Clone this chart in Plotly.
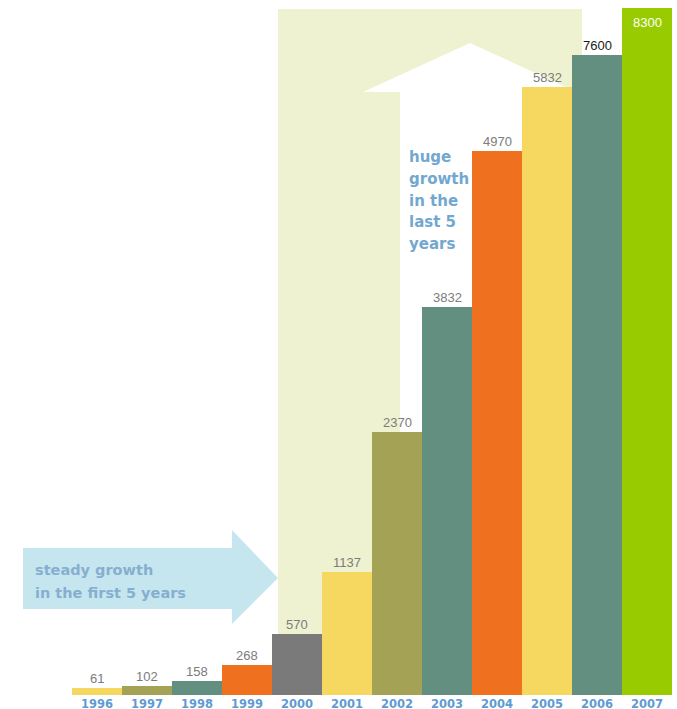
import plotly.graph_objects as go

# ---- data ----
years = ["1996", "1997", "1998", "1999", "2000", "2001",
         "2002", "2003", "2004", "2005", "2006", "2007"]
values = [61, 102, 158, 268, 570, 1137, 2370, 3832, 4970, 5832, 7600, 8300]
# bar heights as actually drawn in the picture (the original graphic is not to scale)
drawn_heights = [65, 84, 131, 280, 570, 1150, 2458, 3626, 5084, 5682, 5981, 6421]
bar_colors = ["#f6d75f", "#a3a255", "#628f80", "#ef7120", "#7a7a7a", "#f6d75f",
              "#a3a255", "#628f80", "#ef7120", "#f6d75f", "#628f80", "#99cc00"]
label_colors = ["#7c7c7c"] * 10 + ["#1a1a1a", "#ffffff"]
label_inside = [False] * 11 + [True]
steady_lines = ["steady growth", "in the first 5 years"]
huge_lines = ["huge", "growth", "in the", "last 5", "years"]

W, H = 677, 709
MB = 14
PH = H - MB  # plot-area height in px
PX_PER_UNIT = 0.107


def px(x, y):
    """pixel coords of the page -> paper coords of the plot area"""
    return x / W, 1 - y / PH


def path(points):
    pts = [px(x, y) for x, y in points]
    return "M " + " L ".join(f"{a:.4f},{b:.4f}" for a, b in pts) + " Z"


idx = list(range(len(years)))

fig = go.Figure()
fig.add_trace(go.Bar(
    x=idx, y=drawn_heights, width=1,
    marker=dict(color=bar_colors, line=dict(width=0)),
    hoverinfo="skip", showlegend=False,
))

shapes = [
    dict(type="rect", xref="paper", yref="paper",
         x0=278 / W, x1=582 / W, y0=0, y1=1 - 9 / PH,
         fillcolor="#eef2d0", line=dict(width=0), layer="below"),
    dict(type="path", xref="paper", yref="paper",
         path=path([(400, 695), (400, 92), (363, 92), (470, 43),
                    (577, 92), (540, 92), (540, 695)]),
         fillcolor="#ffffff", line=dict(width=0), layer="below"),
    dict(type="path", xref="paper", yref="paper",
         path=path([(23, 548), (232, 548), (232, 530), (278, 578),
                    (232, 624), (232, 609), (23, 609)]),
         fillcolor="#c6e6ef", line=dict(width=0), layer="below"),
]

annotations = []
# value labels, placed on the bars through the axes
for i, v, h, c, inside in zip(idx, values, drawn_heights, label_colors, label_inside):
    annotations.append(dict(
        x=i, y=h, xref="x", yref="y", text=str(v), showarrow=False,
        xanchor="center", yanchor="top" if inside else "bottom",
        yshift=-5 if inside else 0,
        font=dict(family="Liberation Sans, Arial", size=13, color=c)))

for k, line in enumerate(steady_lines):
    px_x, px_y = px(33, 570 + 23 * k)
    annotations.append(dict(
        xref="paper", yref="paper", x=px_x, y=px_y, xanchor="left", yanchor="middle",
        showarrow=False, text=f"<b>{line}</b>",
        font=dict(family="DejaVu Sans", size=14.5, color="#86afcf")))

for k, line in enumerate(huge_lines):
    px_x, px_y = px(407, 157 + 21.8 * k)
    annotations.append(dict(
        xref="paper", yref="paper", x=px_x, y=px_y, xanchor="left", yanchor="middle",
        showarrow=False, text=f"<b>{line}</b>",
        font=dict(family="DejaVu Sans", size=15, color="#72a8d0")))

x0 = -0.5 - 72 / 50
x1 = 11.5 + 5 / 50
fig.update_layout(
    width=W, height=H,
    margin=dict(l=0, r=0, t=0, b=MB, pad=0),
    paper_bgcolor="#ffffff", plot_bgcolor="rgba(0,0,0,0)",
    bargap=0,
    shapes=shapes,
    annotations=annotations,
    xaxis=dict(range=[x0, x1], tickvals=idx,
               ticktext=[f"<b>{y}</b>" for y in years],
               tickfont=dict(family="DejaVu Sans", size=11.5, color="#5e9bd3"),
               showgrid=False, zeroline=False, showline=False, ticks="",
               automargin=False, fixedrange=True),
    yaxis=dict(range=[0, PH / PX_PER_UNIT], visible=False,
               showgrid=False, zeroline=False, automargin=False, fixedrange=True),
)

fig.write_html("out.html", config={"displayModeBar": False},
               post_script="document.body.style.margin='0';document.body.style.overflow='hidden';")
